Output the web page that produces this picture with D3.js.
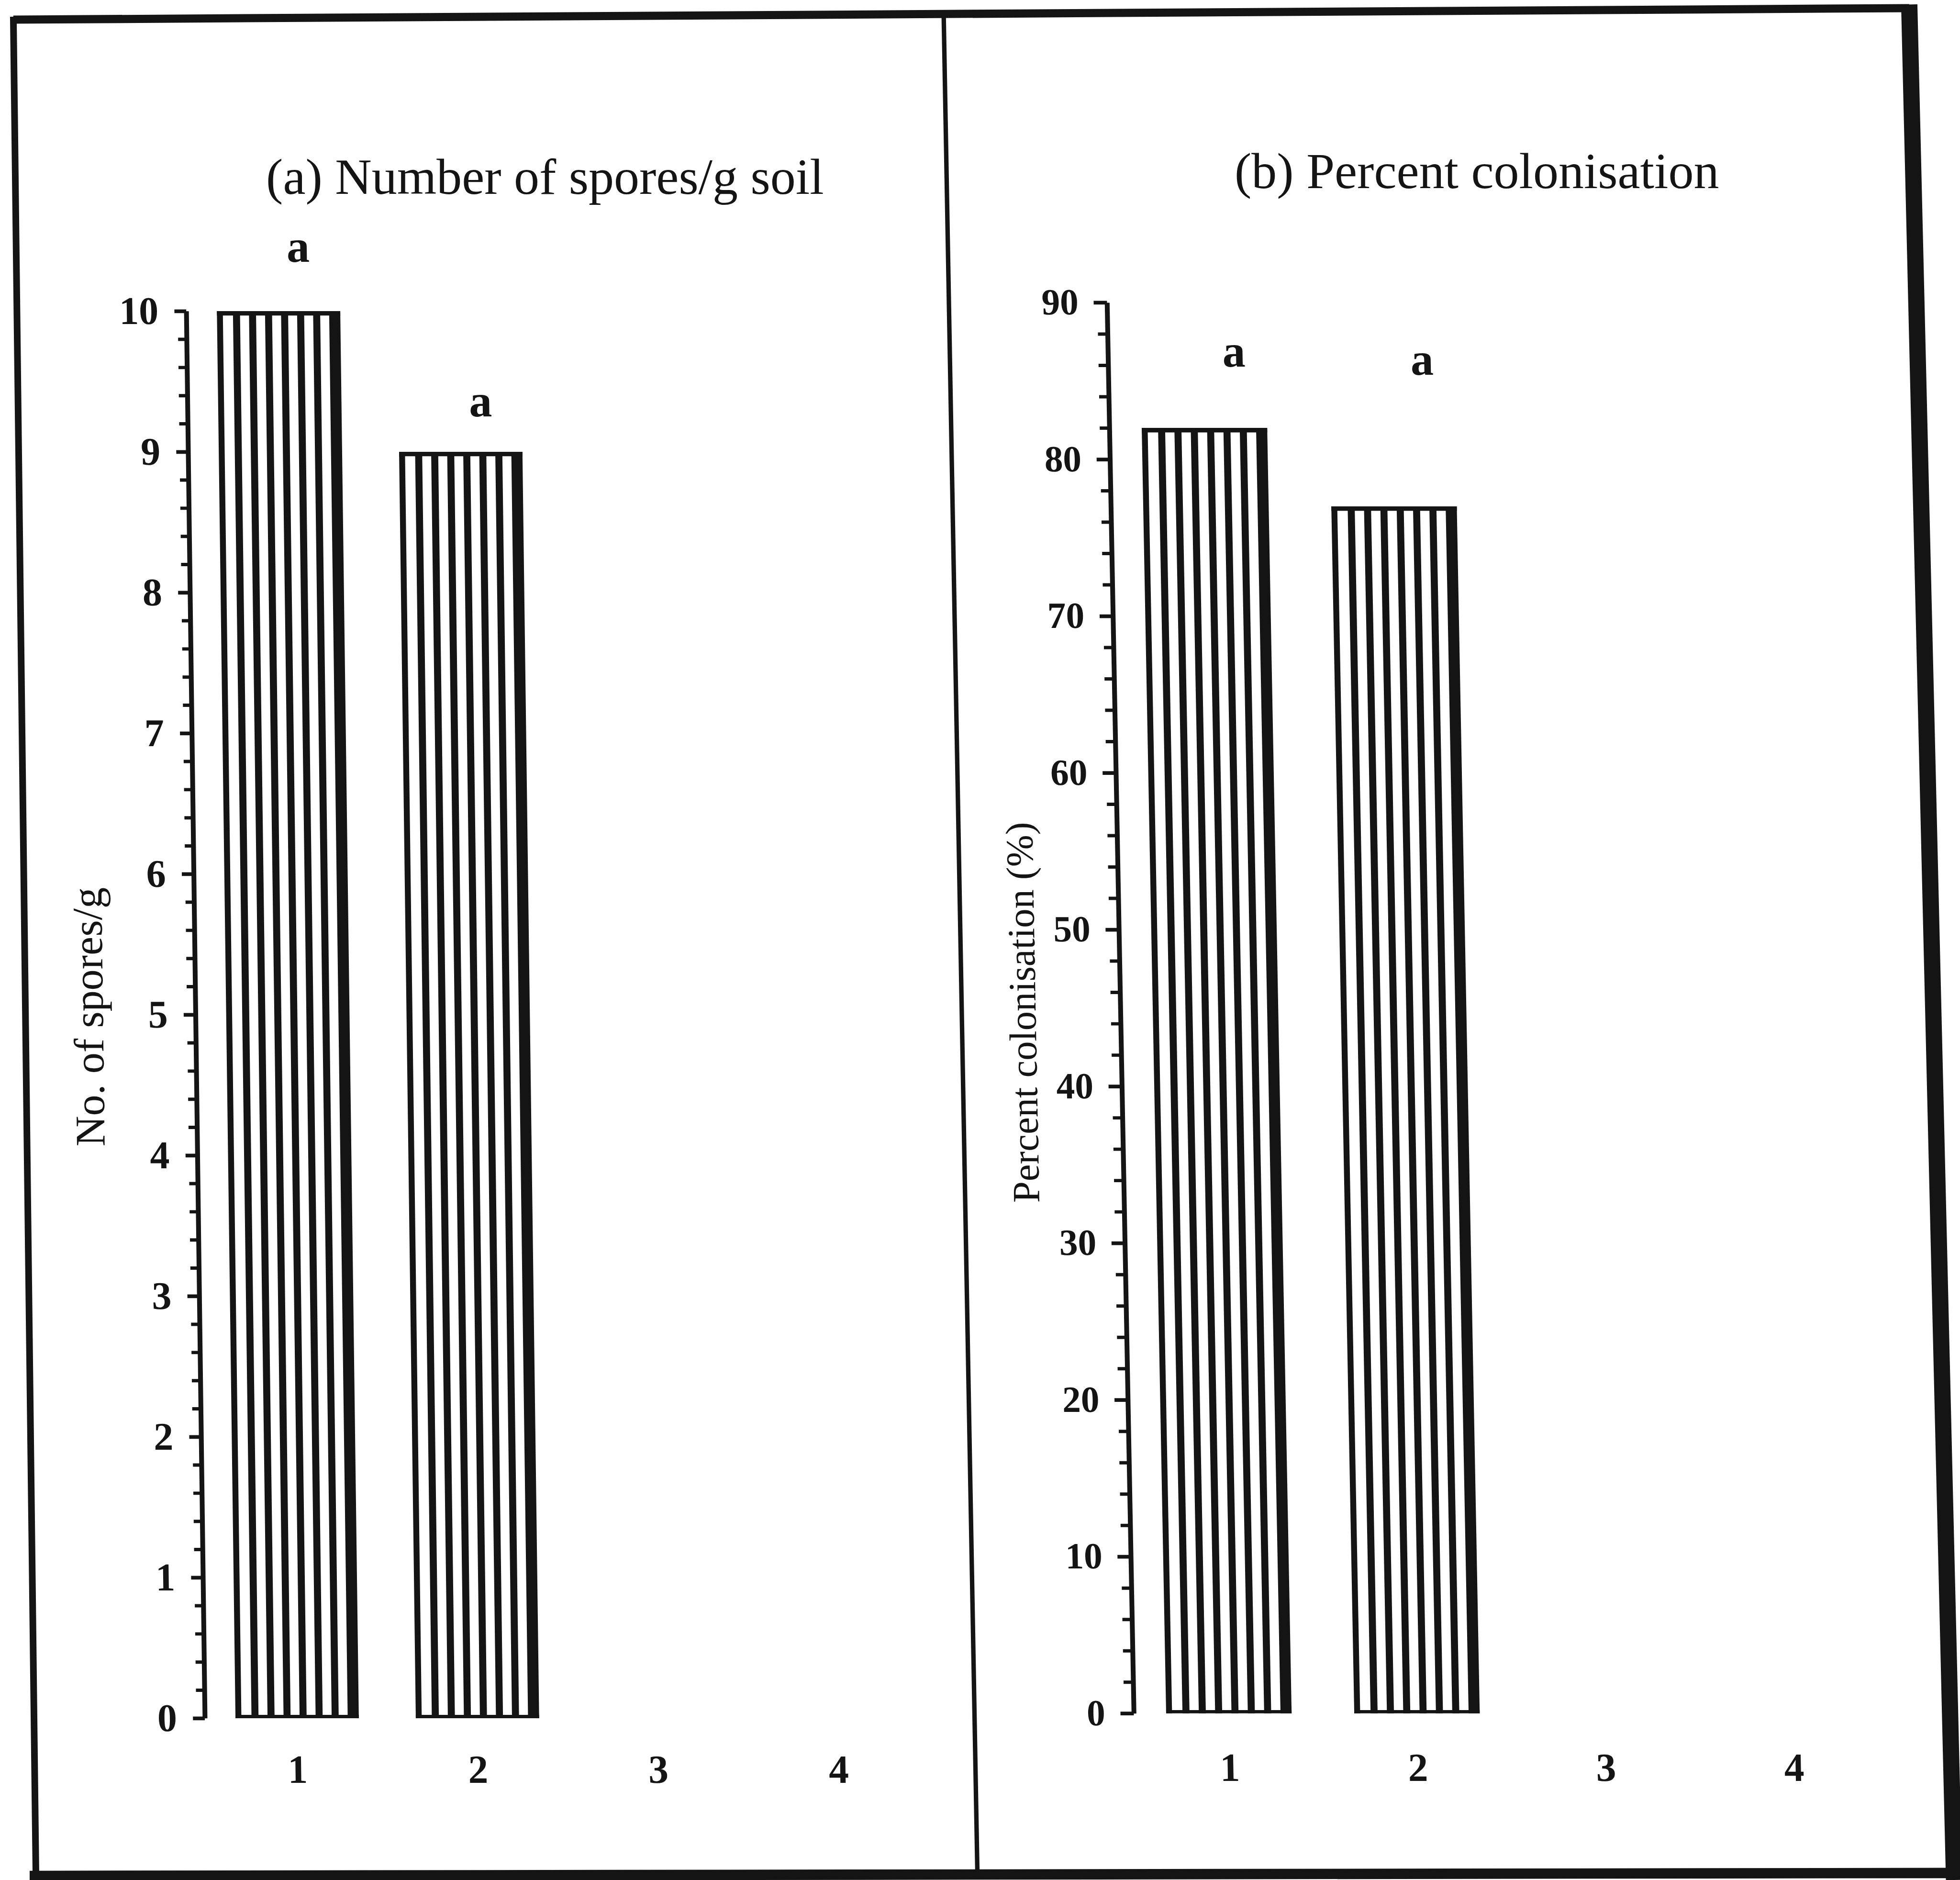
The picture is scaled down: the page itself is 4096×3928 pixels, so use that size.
<!DOCTYPE html>
<html>
<head>
<meta charset="utf-8">
<script src="https://cdn.jsdelivr.net/npm/d3@7"></script>
<style>
  html, body { margin: 0; padding: 0; background: #fff; }
  svg { display: block; }
</style>
</head>
<body>
<div id="chart"></div>
<script>
// x categories (treatments)
const treatments = ["1", "2", "3", "4"];

// (a) spores per g soil
const sporeValues = [10, 9, null, null];
const sporeLetters = ["a", "a", null, null];
const sporeLetterAt = [10.35, 9.25, null, null];   // where the letter sits, in axis units
const sporeTicks = [0, 1, 2, 3, 4, 5, 6, 7, 8, 9, 10];

// (b) percent colonisation
const colonValues = [82, 77, null, null];
const colonLetters = ["a", "a", null, null];
const colonLetterAt = [85.9, 85.4, null, null];
const colonTicks = [0, 10, 20, 30, 40, 50, 60, 70, 80, 90];

const ink = "#141414";
const font = "'Liberation Serif', 'Times New Roman', serif";

// whole drawing is laid out in the reference's pixel space and scaled by the viewBox
const svg = d3.select("#chart")
  .append("svg")
  .attr("width", 4096)
  .attr("height", 3928)
  .attr("viewBox", "0 0 5294 5077");

svg.append("rect").attr("width", 5294).attr("height", 5077).attr("fill", "#fff");

// page frame + divider (scan is slightly sheared, so these are not square)
const frame = [
  { x1: 36, y1: 53, x2: 5157, y2: 22, w: 22 },     // top
  { x1: 36, y1: 45, x2: 97, y2: 5070, w: 18 },     // left
  { x1: 5157, y1: 12, x2: 5278, y2: 5077, w: 44 }, // right
  { x1: 80, y1: 5066, x2: 5290, y2: 5058, w: 28 }, // bottom
  { x1: 2549, y1: 45, x2: 2640, y2: 5062, w: 12 }  // divider
];
svg.append("g")
  .selectAll("line")
  .data(frame)
  .join("line")
  .attr("x1", d => d.x1).attr("y1", d => d.y1)
  .attr("x2", d => d.x2).attr("y2", d => d.y2)
  .attr("stroke", ink)
  .attr("stroke-width", d => d.w);

const panels = [
  {
    title: "(a) Number of spores/g soil", yTitle: "No. of spores/g",
    values: sporeValues, letters: sporeLetters, letterAt: sporeLetterAt,
    ticks: sporeTicks, minorStep: 0.2, max: 10,
    axisX: 503, xEnd: 2463, yTop: 840, yBottom: 4640, skew: 0.0132,
    padInner: 0.316, padOuter: 0.17,
    titleX: 1472, titleY: 523, yTitleX: 253, yTitleY: 2746, yTitleSize: 114,
    tickSize: 106, tickPad: 43, majorLen: 32, minorLen: 23,
    letterDx: 55, labelPad: 98
  },
  {
    title: "(b) Percent colonisation", yTitle: "Percent colonisation (%)",
    values: colonValues, letters: colonLetters, letterAt: colonLetterAt,
    ticks: colonTicks, minorStep: 2, max: 90,
    axisX: 2990, xEnd: 5028, yTop: 817, yBottom: 4627, skew: 0.019,
    padInner: 0.333, padOuter: 0.172,
    titleX: 3989, titleY: 508, yTitleX: 2761, yTitleY: 2734, yTitleSize: 104,
    tickSize: 100, tickPad: 41, majorLen: 36, minorLen: 26,
    letterDx: 83, labelPad: 106
  }
];

panels.forEach(p => {
  // title sits above the sheared area
  svg.append("text")
    .attr("x", p.titleX)
    .attr("y", p.titleY)
    .attr("text-anchor", "middle")
    .attr("font-family", font)
    .attr("font-size", 137)
    .attr("fill", ink)
    .text(p.title);

  const skewDeg = Math.atan(p.skew) * 180 / Math.PI;
  const g = svg.append("g")
    .attr("transform", `translate(0,${p.yTop}) skewX(${skewDeg}) translate(0,${-p.yTop})`);

  const x = d3.scaleBand()
    .domain(treatments)
    .range([p.axisX, p.xEnd])
    .paddingInner(p.padInner)
    .paddingOuter(p.padOuter);

  const y = d3.scaleLinear()
    .domain([0, p.max])
    .range([p.yBottom, p.yTop]);

  // minor ticks
  const minor = d3.range(0, p.max + 1e-9, p.minorStep)
    .filter(v => !p.ticks.some(t => Math.abs(t - v) < 1e-6));
  g.append("g")
    .attr("transform", `translate(${p.axisX},0)`)
    .call(d3.axisLeft(y).tickValues(minor).tickSize(p.minorLen).tickFormat(""))
    .call(a => a.select(".domain").remove())
    .call(a => a.selectAll(".tick line").attr("stroke", ink).attr("stroke-width", 9));

  // major ticks + axis line
  g.append("g")
    .attr("transform", `translate(${p.axisX},0)`)
    .call(d3.axisLeft(y).tickValues(p.ticks).tickSize(p.majorLen).tickSizeOuter(0)
      .tickPadding(p.tickPad).tickFormat(d3.format("d")))
    .call(a => a.select(".domain").attr("stroke", ink).attr("stroke-width", 13))
    .call(a => a.selectAll(".tick line").attr("stroke", ink).attr("stroke-width", 10))
    .call(a => a.selectAll(".tick text")
      .attr("fill", ink)
      .attr("font-family", font)
      .attr("font-weight", "bold")
      .attr("font-size", p.tickSize));

  // category labels
  g.append("g")
    .attr("transform", `translate(0,${p.yBottom})`)
    .call(d3.axisBottom(x).tickSize(0).tickPadding(p.labelPad))
    .call(a => a.select(".domain").remove())
    .call(a => a.selectAll(".tick text")
      .attr("fill", ink)
      .attr("font-family", font)
      .attr("font-weight", "bold")
      .attr("font-size", 108));

  // y axis title
  g.append("text")
    .attr("transform", `translate(${p.yTitleX},${p.yTitleY}) rotate(-90)`)
    .attr("text-anchor", "middle")
    .attr("font-family", font)
    .attr("font-size", p.yTitleSize)
    .attr("fill", ink)
    .text(p.yTitle);

  // bars: white box with vertical black stripes, heavier right edge
  const rows = treatments.map((t, i) => ({ t, v: p.values[i], letter: p.letters[i], at: p.letterAt[i] }))
    .filter(d => d.v != null);

  const bars = g.selectAll(".bar")
    .data(rows)
    .join("g")
    .attr("class", "bar");

  const bw = x.bandwidth();
  const step = (bw - 30) / 7;

  bars.selectAll(".stripe")
    .data(d => d3.range(8).map(i => ({ d, i })))
    .join("rect")
    .attr("class", "stripe")
    .attr("x", s => x(s.d.t) + s.i * step)
    .attr("y", s => y(s.d.v))
    .attr("width", s => s.i === 7 ? 30 : (s.i === 0 ? 16 : 19))
    .attr("height", s => y(0) - y(s.d.v))
    .attr("fill", ink);

  bars.append("rect")
    .attr("x", d => x(d.t))
    .attr("y", d => y(d.v))
    .attr("width", bw)
    .attr("height", 12)
    .attr("fill", ink);

  bars.append("rect")
    .attr("x", d => x(d.t))
    .attr("y", y(0) - 9)
    .attr("width", bw)
    .attr("height", 9)
    .attr("fill", ink);

  // significance letters
  g.selectAll(".letter")
    .data(rows.filter(d => d.letter))
    .join("text")
    .attr("class", "letter")
    .attr("x", d => x(d.t) + bw / 2 + p.letterDx)
    .attr("y", d => y(d.at))
    .attr("text-anchor", "middle")
    .attr("font-family", font)
    .attr("font-weight", "bold")
    .attr("font-size", 124)
    .attr("fill", ink)
    .text(d => d.letter);
});
</script>
</body>
</html>
